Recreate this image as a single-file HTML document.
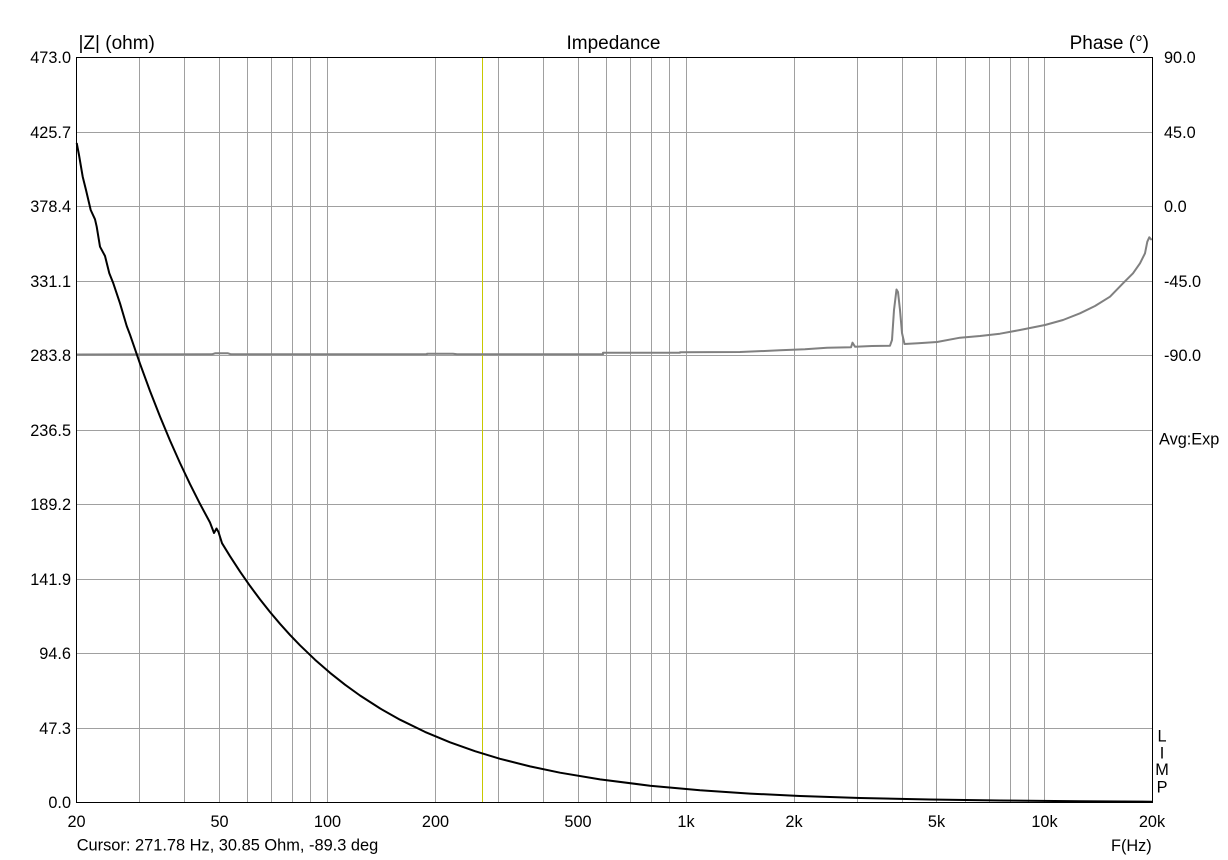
<!DOCTYPE html>
<html>
<head>
<meta charset="utf-8">
<style>
  html,body{margin:0;padding:0;background:#fff;}
  svg{display:block;}
  text{font-family:"Liberation Sans",Arial,sans-serif;fill:#000;}
</style>
</head>
<body>
<svg width="1228" height="860" viewBox="0 0 1228 860" xmlns="http://www.w3.org/2000/svg">
  <rect x="0" y="0" width="1228" height="860" fill="#fff"/>
  <!-- horizontal grid -->
  <g stroke="#a0a0a0" stroke-width="1" fill="none">
    <line x1="76.5" y1="132.5" x2="1152.5" y2="132.5"/>
    <line x1="76.5" y1="206.5" x2="1152.5" y2="206.5"/>
    <line x1="76.5" y1="281.5" x2="1152.5" y2="281.5"/>
    <line x1="76.5" y1="355.5" x2="1152.5" y2="355.5"/>
    <line x1="76.5" y1="430.5" x2="1152.5" y2="430.5"/>
    <line x1="76.5" y1="504.5" x2="1152.5" y2="504.5"/>
    <line x1="76.5" y1="579.5" x2="1152.5" y2="579.5"/>
    <line x1="76.5" y1="653.5" x2="1152.5" y2="653.5"/>
    <line x1="76.5" y1="728.5" x2="1152.5" y2="728.5"/>
    <!-- vertical grid -->
    <line x1="139.5" y1="57.5" x2="139.5" y2="802.5"/>
    <line x1="184.5" y1="57.5" x2="184.5" y2="802.5"/>
    <line x1="219.5" y1="57.5" x2="219.5" y2="802.5"/>
    <line x1="247.5" y1="57.5" x2="247.5" y2="802.5"/>
    <line x1="271.5" y1="57.5" x2="271.5" y2="802.5"/>
    <line x1="292.5" y1="57.5" x2="292.5" y2="802.5"/>
    <line x1="310.5" y1="57.5" x2="310.5" y2="802.5"/>
    <line x1="327.5" y1="57.5" x2="327.5" y2="802.5"/>
    <line x1="435.5" y1="57.5" x2="435.5" y2="802.5"/>
    <line x1="498.5" y1="57.5" x2="498.5" y2="802.5"/>
    <line x1="543.5" y1="57.5" x2="543.5" y2="802.5"/>
    <line x1="578.5" y1="57.5" x2="578.5" y2="802.5"/>
    <line x1="606.5" y1="57.5" x2="606.5" y2="802.5"/>
    <line x1="630.5" y1="57.5" x2="630.5" y2="802.5"/>
    <line x1="651.5" y1="57.5" x2="651.5" y2="802.5"/>
    <line x1="669.5" y1="57.5" x2="669.5" y2="802.5"/>
    <line x1="686.5" y1="57.5" x2="686.5" y2="802.5"/>
    <line x1="794.5" y1="57.5" x2="794.5" y2="802.5"/>
    <line x1="857.5" y1="57.5" x2="857.5" y2="802.5"/>
    <line x1="902.5" y1="57.5" x2="902.5" y2="802.5"/>
    <line x1="936.5" y1="57.5" x2="936.5" y2="802.5"/>
    <line x1="965.5" y1="57.5" x2="965.5" y2="802.5"/>
    <line x1="989.5" y1="57.5" x2="989.5" y2="802.5"/>
    <line x1="1010.5" y1="57.5" x2="1010.5" y2="802.5"/>
    <line x1="1028.5" y1="57.5" x2="1028.5" y2="802.5"/>
    <line x1="1044.5" y1="57.5" x2="1044.5" y2="802.5"/>
  </g>
  <!-- cursor -->
  <line x1="482.5" y1="57.5" x2="482.5" y2="802.5" stroke="#c8c800" stroke-width="1"/>

  <!-- phase curve -->
  <polyline fill="none" stroke="#808080" stroke-width="2" stroke-linejoin="round"
    points="76.5,354.5 212,354.3 215,353.3 228,353.3 231,354.3 427,354.3 427,353.7 453,353.7 457,354.3 603,354.3 603,352.7 680,352.7 680,352.3 740,352 780,350.3 805,349.3 827,347.8 851,347.3 852.5,342.7 855,346.7 872,346 890,345.7 892,340 894,310 896.5,289.5 898,292 900,310 902,333 904.5,344 918,343.3 937,342 960,337.7 980,336 1000,333.7 1020,330 1045,325 1063,320 1080,313.3 1095,306 1110,296.7 1123,283.3 1133,273.3 1140,263.3 1145,253.3 1147.3,241.7 1149.3,237.3 1151.7,240"/>

  <!-- impedance curve -->
  <polyline fill="none" stroke="#000" stroke-width="2" stroke-linejoin="round"
    points="76.7,143 79,155 82.7,176.7 86,190 90.7,210 95,219.3 96.7,226.7 100,246.7 105,256 109.3,273.3 113.3,283.3 120,303.3 126.7,326 130,334.7 140,363.7 150,391 160,416.5 170,440.5 180,463 190,484.1 200,503.9 210,522.5 214,533 216.5,528.5 218.5,532 222,543.2 230,556.2 240,571.6 250,585.9 260,599.4 270,612 280,623.8 290,634.9 300,645.3 315,659.7 330,672.8 345,684.7 360,695.5 380,708.4 400,719.7 425,731.9 450,742.3 475,751.2 500,758.8 530,766.4 560,772.7 600,779.4 650,785.7 700,790.3 750,793.6 800,796 860,798 930,799.5 1000,800.5 1080,801.2 1152,801.7"/>

  <!-- frame -->
  <rect x="76.5" y="57.5" width="1076" height="745" fill="none" stroke="#000" stroke-width="1"/>

  <!-- titles -->
  <text x="78.5" y="49" font-size="19">|Z| (ohm)</text>
  <text x="613.5" y="49" font-size="19" text-anchor="middle">Impedance</text>
  <text x="1149" y="49" font-size="19" text-anchor="end">Phase (°)</text>

  <!-- left y labels -->
  <g font-size="16.3" text-anchor="end">
    <text x="71" y="63">473.0</text>
    <text x="71" y="138">425.7</text>
    <text x="71" y="212">378.4</text>
    <text x="71" y="287">331.1</text>
    <text x="71" y="361">283.8</text>
    <text x="71" y="436">236.5</text>
    <text x="71" y="510">189.2</text>
    <text x="71" y="585">141.9</text>
    <text x="71" y="659">94.6</text>
    <text x="71" y="734">47.3</text>
    <text x="71" y="808">0.0</text>
  </g>
  <!-- right labels -->
  <g font-size="16.3">
    <text x="1164" y="63">90.0</text>
    <text x="1164" y="138">45.0</text>
    <text x="1164" y="212">0.0</text>
    <text x="1164" y="287">-45.0</text>
    <text x="1164" y="361">-90.0</text>
    <text x="1159" y="444.5">Avg:Exp</text>
    <text x="1162" y="741.7" text-anchor="middle">L</text>
    <text x="1162" y="758.3" text-anchor="middle">I</text>
    <text x="1162" y="775" text-anchor="middle">M</text>
    <text x="1162" y="792.7" text-anchor="middle">P</text>
  </g>
  <!-- x labels -->
  <g font-size="16.3" text-anchor="middle">
    <text x="76.5" y="827">20</text>
    <text x="219.5" y="827">50</text>
    <text x="327.5" y="827">100</text>
    <text x="435.5" y="827">200</text>
    <text x="578" y="827">500</text>
    <text x="686" y="827">1k</text>
    <text x="794" y="827">2k</text>
    <text x="936.5" y="827">5k</text>
    <text x="1044.5" y="827">10k</text>
    <text x="1152" y="827">20k</text>
  </g>
  <text x="1151.7" y="851" font-size="16.3" text-anchor="end">F(Hz)</text>
  <text x="76.7" y="850.5" font-size="16.4">Cursor: 271.78 Hz, 30.85 Ohm, -89.3 deg</text>
</svg>
</body>
</html>
